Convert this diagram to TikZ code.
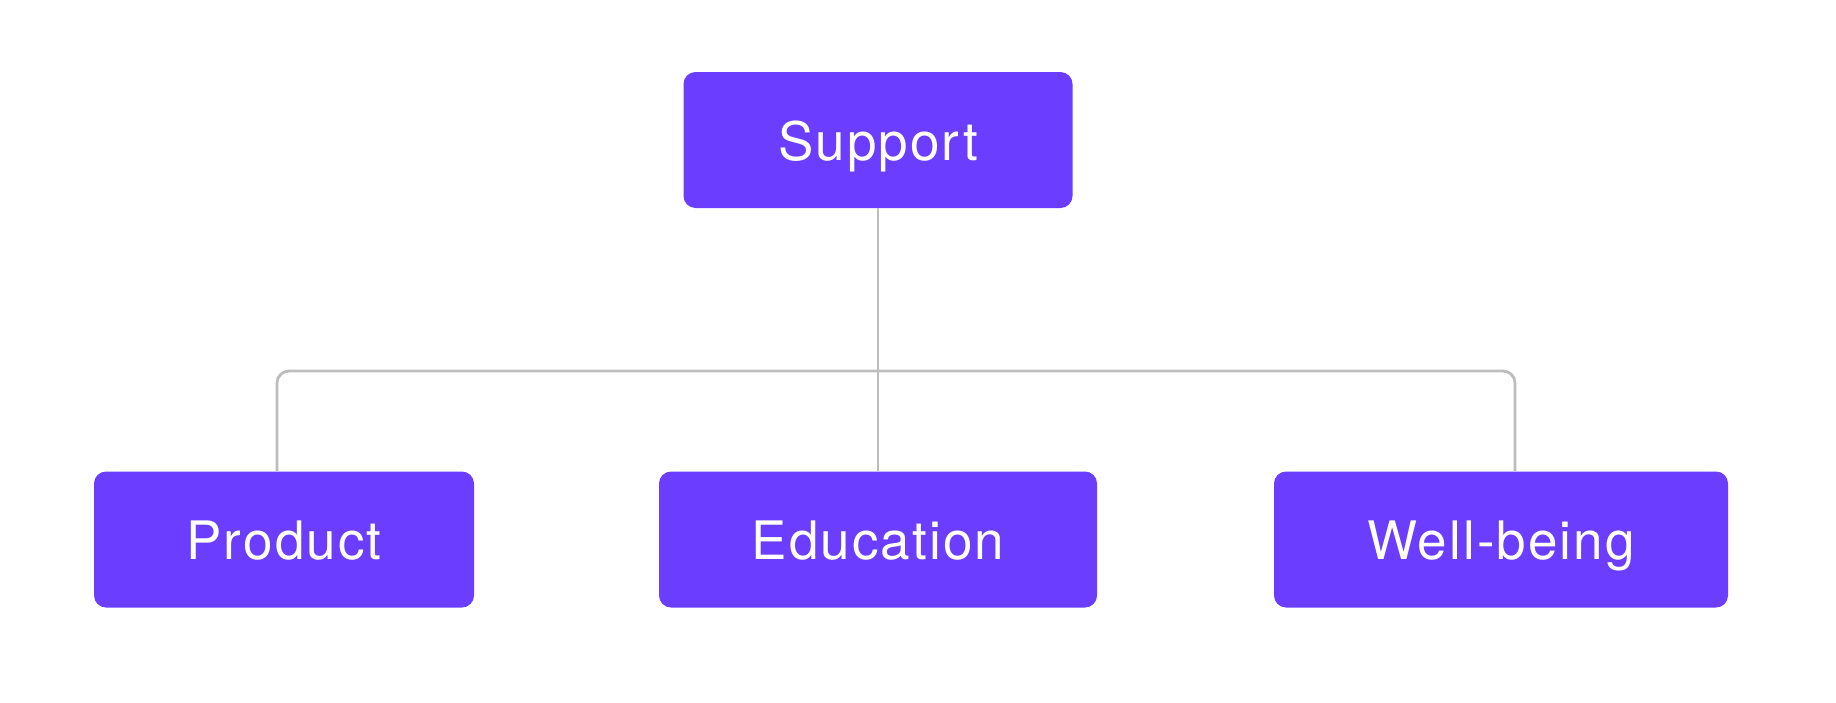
\documentclass[tikz,border=0pt]{standalone}
\usepackage{fontspec}
\setmainfont{TeX Gyre Heros}[LetterSpace=4]
\usepackage{xcolor}
\usetikzlibrary{calc}
\definecolor{boxviolet}{HTML}{6A3DFF}
\definecolor{linegray}{HTML}{BDBDBD}

\begin{document}
\begin{tikzpicture}[x=0.5pt, y=-0.5pt,
    teambox/.style={fill=boxviolet, text=white, rounded corners=6pt,
        minimum height=68pt, inner sep=0pt, text height=20pt, text depth=0pt,
        font=\fontsize{26.5}{30}\selectfont},
    link/.style={linegray, line width=1.4pt, rounded corners=6pt}]

    % 1. Fix the page to the reference size
    \useasboundingbox (0,0) rectangle (1836,702);

    % 2. The root box
    \node[teambox, minimum width=194.5pt] (support) at (878,140) {Support};

    % 3. The three child boxes
    \node[teambox, minimum width=190pt] (product) at (284,539.5) {Product};
    \node[teambox, minimum width=219pt] (education) at (878,539.5) {Education};
    \node[teambox, minimum width=227pt] (wellbeing) at (1501,539.5) {Well-being};

    % 4. Branch point on the horizontal bar
    \coordinate (bar) at (878,371);

    % 5. Connectors
    \draw[link] (support.south) -- (education.north);
    \draw[link] ([xshift=-3.5pt]product.north) |- (bar) -| ([xshift=7pt]wellbeing.north);

\end{tikzpicture}
\end{document}
